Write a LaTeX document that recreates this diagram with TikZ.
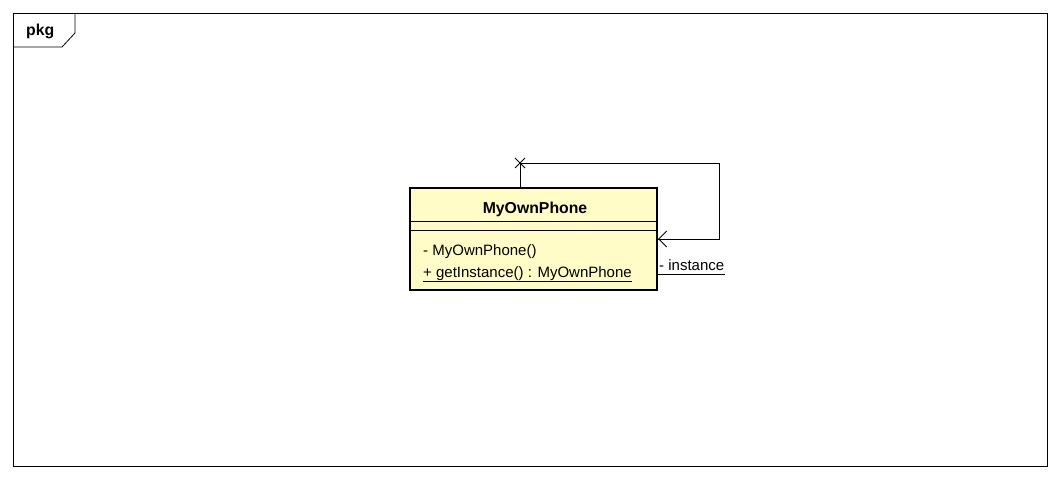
\documentclass[tikz,border=0pt]{standalone}
\usepackage{fontspec}
\setmainfont{Liberation Sans}
\usetikzlibrary{arrows.meta,calc}
\begin{document}
\begin{tikzpicture}[x=1pt,y=-1pt,
  frame/.style={draw=black,line width=0.8pt},
  cls/.style={draw=black,line width=2.8pt},
  sep/.style={draw=black,line width=0.9pt},
  conn/.style={draw=black,line width=0.9pt},
  txt/.style={inner sep=0pt,font=\fontsize{15}{17}\selectfont},
  btxt/.style={inner sep=0pt,font=\bfseries\fontsize{15.8}{18}\selectfont},
]
\useasboundingbox (0,0) rectangle (1060,478);
% package frame
\draw[frame] (13,13) rectangle (1047,466);
\draw[frame] (13,47) -- (62,47) -- (75,33) -- (75,13);
\node[btxt,anchor=base west] (pkg) at (26,36) {pkg};
% class
\fill[yellow!22] (410,188) rectangle (657,290);
\draw[sep] (410,221) -- (657,221);
\draw[sep] (410,230) -- (657,230);
\draw[cls] (410,188) rectangle (657,290);
\node[btxt,anchor=base] (name) at (535,213.5) {MyOwnPhone};
\node[txt,anchor=base west] (ctor) at (423,256) {- MyOwnPhone()};
\node[txt,anchor=base west] (gi) at (423,278) {+ getInstance() : MyOwnPhone};
\draw[conn] ($(gi.base west)+(0,3)$) -- ($(gi.base east)+(0,3)$);
% self association
\coordinate (top) at (520,188);
\coordinate (xm) at (520,163);
\coordinate (rt) at (719,163);
\coordinate (rb) at (719,239);
\coordinate (ah) at (658,239);
\draw[conn] (top) -- (xm) -- (rt) -- (rb) -- (ah);
\draw[conn,-{Straight Barb[length=8pt,width=16pt,line width=0.9pt]}] (670,239) -- (ah);
\draw[conn] ($(xm)+(-5,-5)$) -- ($(xm)+(5,5)$);
\draw[conn] ($(xm)+(-5,5)$) -- ($(xm)+(5,-5)$);
\coordinate (il) at (658,274);
\coordinate (ir) at (725,274);
\draw[conn] (il) -- (ir);
\node[txt,anchor=base west] (inst) at (659,271) {- instance};
\end{tikzpicture}
\end{document}
